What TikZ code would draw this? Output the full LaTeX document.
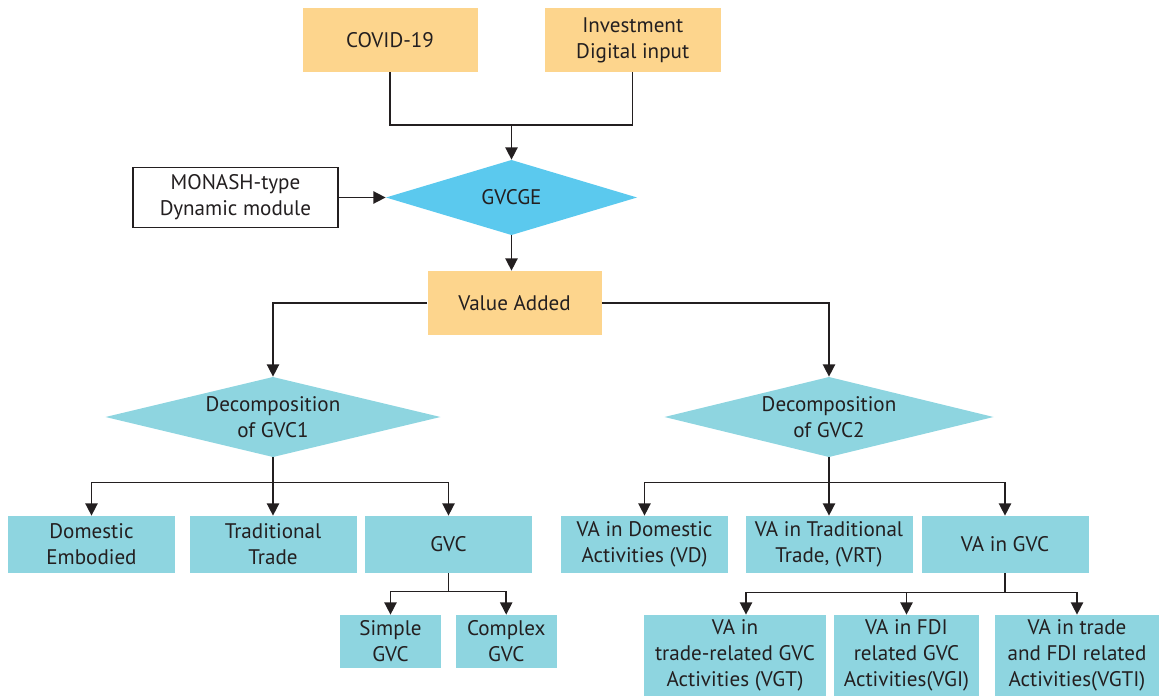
\documentclass[tikz,border=0pt]{standalone}
\usepackage{fontspec}
\setmainfont{PT Sans}
\usepackage{xcolor}
\usetikzlibrary{arrows.meta,positioning}
\definecolor{peach}{HTML}{FDD58D}
\definecolor{skyblue}{HTML}{5BC9EE}
\definecolor{aqua}{HTML}{8ED5E0}
\definecolor{ink}{HTML}{231F20}

\begin{document}
\begin{tikzpicture}[font=\fontsize{12}{14.8}\selectfont, text=ink,
    box/.style={fill=#1, align=center, inner sep=0pt},
    decision/.style={align=center, inner sep=0pt,
      path picture={\fill[#1] (path picture bounding box.west) -- (path picture bounding box.north)
        -- (path picture bounding box.east) -- (path picture bounding box.south) -- cycle;}},
    leaf/.style={box=aqua, minimum width=3.34cm, minimum height=1.14cm},
    link/.style={draw=ink, line width=0.85pt},
    arr/.style={link, -{Triangle[width=7pt,length=7pt]}}]
    \useasboundingbox (0,0) rectangle (23.18,-13.92);

    \node[box=peach, minimum width=3.5cm, minimum height=1.28cm] (covid) at (7.8,-0.8) {COVID-19};
    \node[box=peach, minimum width=3.52cm, minimum height=1.28cm, right=1.33cm of covid] (invest) {Investment\\Digital input};
    \coordinate (join) at (10.23,-2.5);
    \node[decision=skyblue, minimum width=5.02cm, minimum height=1.5cm] (gvcge) at (10.23,-3.95) {GVCGE};
    \node[draw=ink, line width=0.85pt, fill=white, align=center, inner sep=0pt,
      minimum width=4.1cm, minimum height=1.2cm] (monash) at (4.71,-3.95) {MONASH-type\\Dynamic module};
    \node[box=peach, minimum width=3.48cm, minimum height=1.28cm] (value) at (10.29,-6.06) {Value Added};

    \node[decision=aqua, minimum width=6.7cm, minimum height=1.6cm] (dec1) at (5.46,-8.34) {Decomposition\\of GVC1};
    \node[decision=aqua, minimum width=6.58cm, minimum height=1.6cm] (dec2) at (16.58,-8.34) {Decomposition\\of GVC2};

    \node[leaf] (dom) at (1.83,-10.89) {Domestic\\Embodied};
    \node[leaf] (trad) at (5.46,-10.89) {Traditional\\Trade};
    \node[leaf] (gvc) at (8.97,-10.89) {GVC};
    \node[leaf] (vad) at (12.89,-10.89) {VA in Domestic\\Activities (VD)};
    \node[leaf] (vat) at (16.58,-10.89) {VA in Traditional\\Trade, (VRT)};
    \node[leaf] (vag) at (20.1,-10.89) {VA in GVC};

    \node[box=aqua, minimum width=2.02cm, minimum height=1.06cm] (simple) at (7.81,-12.83) {Simple\\GVC};
    \node[box=aqua, minimum width=2.02cm, minimum height=1.06cm, right=0.28cm of simple] (complex) {Complex\\GVC};
    \node[box=aqua, minimum width=3.64cm, minimum height=1.62cm] (vgt) at (14.70,-13.11) {VA in\\trade-related GVC\\Activities (VGT)};
    \node[box=aqua, minimum width=2.9cm, minimum height=1.62cm] (vgi) at (18.13,-13.11) {VA in FDI\\related GVC\\Activities(VGI)};
    \node[box=aqua, minimum width=3.28cm, minimum height=1.62cm] (vgti) at (21.54,-13.11) {VA in trade\\and FDI related\\Activities(VGTI)};

    \draw[link] (covid.south) |- (join) -| (invest.south);
    \draw[arr] (join) -- (gvcge.north);
    \draw[arr] (monash.east) -- (gvcge.west);
    \draw[arr] (gvcge.south) -- (value.north -| gvcge.south);
    \draw[arr] (value.west) -| (dec1.north);
    \draw[arr] (value.east) -| (dec2.north);

    \coordinate[below=0.5cm of dec1.south] (split1);
    \draw[arr] (dec1.south) -- (trad.north);
    \draw[arr] (split1) -| (dom.north);
    \draw[arr] (split1) -| (gvc.north);

    \coordinate[below=0.5cm of dec2.south] (split2);
    \draw[arr] (dec2.south) -- (vat.north);
    \draw[arr] (split2) -| (vad.north);
    \draw[arr] (split2) -| (vag.north);

    \coordinate[below=0.36cm of gvc.south] (split3);
    \draw[link] (gvc.south) -- (split3);
    \draw[arr] (split3) -| (simple.north);
    \draw[arr] (split3) -| (complex.north);

    \coordinate[below=0.38cm of vag.south] (split4);
    \draw[link] (vag.south) -- (split4);
    \draw[arr] (split4) -| ([xshift=0.22cm]vgt.north);
    \draw[arr] (split4) -| (vgi.north);
    \draw[arr] (split4) -| (vgti.north);
\end{tikzpicture}
\end{document}
